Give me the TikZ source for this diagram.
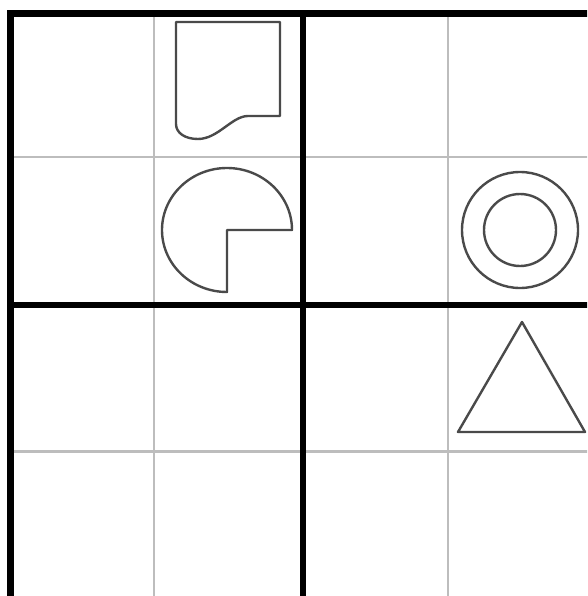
\documentclass[tikz,border=0pt]{standalone}
\usepackage{xcolor}
\usepackage{tikz}
\usetikzlibrary{arrows.meta, positioning}

\definecolor{gridgray}{HTML}{BDBDBD}
\definecolor{shapegray}{HTML}{4A4A4A}

\begin{document}
\begin{tikzpicture}[
  x=1pt, y=-1pt,
  thinline/.style={draw=gridgray, line width=2.4pt},
  thickline/.style={draw=black, line width=6.8pt},
  figure/.style={draw=shapegray, line width=2.4pt, line join=round},
]
  \useasboundingbox (0,0) rectangle (587,596);
  \clip (0,0) rectangle (587,596);

  % Thin cell lines
  \foreach \gx in {154, 448}
    \draw[thinline] (\gx,13.5) -- (\gx,600);
  \foreach \gy in {157, 451.5}
    \draw[thinline] (10.5,\gy) -- (600,\gy);

  % Thick block lines
  \foreach \gx in {10.5, 303}
    \draw[thickline] (\gx,10.1) -- (\gx,600);
  \foreach \gy in {13.5, 305}
    \draw[thickline] (7.1,\gy) -- (600,\gy);

  % Document shape
  \draw[figure] (176,22) -- (280,22) -- (280,116) -- (248,116)
    .. controls (232,116) and (218,139) .. (198,139)
    .. controls (185,139) and (176,133) .. (176,124) -- cycle;

  % Three-quarter disc
  \draw[figure] (227,230) -- (292,230)
    arc[start angle=0, end angle=-270, x radius=65, y radius=62]
    -- cycle;

  % Double circle
  \draw[figure] (520,230) circle[radius=58];
  \draw[figure] (520,230) circle[radius=36];

  % Triangle
  \draw[figure] (522,322) -- (585,432) -- (458,432) -- cycle;

\end{tikzpicture}
\end{document}
